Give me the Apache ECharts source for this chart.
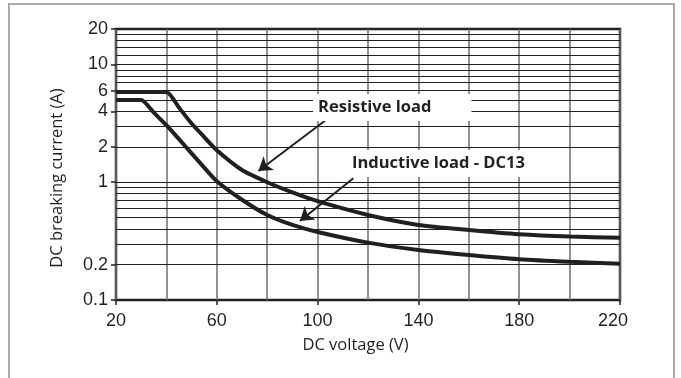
<!DOCTYPE html>
<html>
<head>
<meta charset="utf-8">
<script src="https://cdn.jsdelivr.net/npm/echarts@6/dist/echarts.min.js"></script>
<style>html,body{margin:0;padding:0;background:#fff;}#c{width:681px;height:378px;}</style>
</head>
<body>
<div id="c"></div>
<script>
// ---- data ----
const resistiveX = [20, 40, 45, 50, 55, 60, 70, 80, 90, 100, 120, 140, 160, 180, 200, 220];
const resistiveY = [5.85, 5.85, 4.3, 3.15, 2.42, 1.87, 1.27, 1.0, 0.82, 0.69, 0.527, 0.434, 0.393, 0.362, 0.346, 0.338];
const inductiveX = [20, 30, 35, 40, 45, 50, 55, 60, 70, 80, 90, 100, 120, 140, 160, 180, 200, 220];
const inductiveY = [5, 5, 3.9, 3.05, 2.32, 1.76, 1.33, 1.02, 0.71, 0.527, 0.434, 0.378, 0.307, 0.266, 0.241, 0.222, 0.211, 0.203];
const xTickLabels = [20, 60, 100, 140, 180, 220];
const yTickLabels = [0.1, 0.2, 1, 2, 4, 6, 10, 20];
const yGridValues = [0.2, 0.3, 0.4, 0.5, 0.6, 0.7, 0.8, 0.9, 1, 2, 3, 4, 5, 6, 7, 8, 9, 10, 12, 14, 16, 18];
const resistiveLabel = 'Resistive load';
const inductiveLabel = 'Inductive load - DC13';
const resistiveLabelAt = [98.2, 4.31];
const inductiveLabelAt = [108.9, 1.44];
const resistiveArrow = [[102.9, 3.33], [76.5, 1.247]];
const inductiveArrow = [[114.2, 1.08], [93.0, 0.469]];

const INK = '#231f20';
const pair = (xs, ys) => xs.map((x, i) => [x, ys[i]]);

const chart = echarts.init(document.getElementById('c'), null, {renderer: 'canvas'});
chart.setOption({
  animation: false,
  backgroundColor: '#fff',
  graphic: [{
    type: 'rect', silent: true, z: 0,
    shape: {x: 9, y: 4, width: 665, height: 420},
    style: {fill: 'none', stroke: '#a7a9ac', lineWidth: 2}
  }],
  grid: {
    left: 116, right: 61, top: 29, bottom: 78,
    show: true, borderColor: INK, borderWidth: 2.5, backgroundColor: 'transparent',
    outerBoundsMode: 'none'
  },
  xAxis: [{
    type: 'value', min: 20, max: 220,
    name: 'DC voltage (V)', nameLocation: 'middle', nameGap: 37,
    nameTextStyle: {fontFamily: 'Open Sans', fontSize: 16.5, color: INK, padding: [0, 25, 0, 0]},
    axisLine: {show: false},
    axisTick: {show: true, customValues: xTickLabels, length: 5, inside: false, lineStyle: {color: INK, width: 1.5}},
    axisLabel: {
      customValues: xTickLabels, margin: 12,
      fontFamily: 'Liberation Sans', fontSize: 18, color: INK,
      formatter: v => v === 220 ? '{r|220}' : String(v),
      rich: {r: {fontFamily: 'Liberation Sans', fontSize: 18, color: INK, padding: [0, 14, 0, 0]}}
    },
    splitLine: {show: false}
  }, {
    type: 'value', min: 20, max: 220, interval: 20, position: 'bottom',
    axisLine: {show: false}, axisTick: {show: false}, axisLabel: {show: false},
    splitLine: {show: true, lineStyle: {color: '#6d6e71', width: 1.5}}
  }],
  yAxis: {
    type: 'log', logBase: 10, min: 0.1, max: 20,
    name: 'DC breaking current (A)', nameLocation: 'middle', nameGap: 50,
    nameTextStyle: {fontFamily: 'Open Sans', fontSize: 16.5, color: INK, padding: [0, 27, 0, 0]},
    axisLine: {show: false},
    axisTick: {show: true, customValues: yTickLabels, length: 5, inside: false, lineStyle: {color: INK, width: 1.5}},
    axisLabel: {customValues: yTickLabels, margin: 8, fontFamily: 'Liberation Sans', fontSize: 18, color: INK},
    splitLine: {show: false},
    minorTick: {show: false}, minorSplitLine: {show: false}
  },
  series: [{
    name: 'grid', type: 'line', data: [], silent: true,
    markLine: {
      silent: true, z: 1, symbol: ['none', 'none'], animation: false,
      label: {show: false}, emphasis: {disabled: true},
      lineStyle: {color: INK, width: 1, type: 'solid'},
      data: yGridValues.map(v => ({yAxis: v}))
    }
  }, {
    name: 'Resistive load', type: 'line', data: pair(resistiveX, resistiveY),
    showSymbol: false, smooth: 0.2, z: 3,
    lineStyle: {color: INK, width: 4}, itemStyle: {color: INK}
  }, {
    name: 'Inductive load - DC13', type: 'line', data: pair(inductiveX, inductiveY),
    showSymbol: false, smooth: 0.2, z: 3,
    lineStyle: {color: INK, width: 4}, itemStyle: {color: INK}
  }, {
    name: 'annotations', type: 'line', data: [], silent: true, z: 6,
    markLine: {
      silent: true, z: 6, symbol: ['none', 'arrow'], symbolSize: 13, animation: false,
      label: {show: false}, emphasis: {disabled: true},
      lineStyle: {color: INK, width: 2, type: 'solid'},
      data: [
        [{coord: resistiveArrow[0]}, {coord: resistiveArrow[1]}],
        [{coord: inductiveArrow[0]}, {coord: inductiveArrow[1]}]
      ]
    },
    markPoint: {
      silent: true, z: 7, symbol: 'circle', symbolSize: 0, animation: false,
      itemStyle: {color: 'transparent'},
      label: {
        show: true, position: 'right', distance: 0,
        fontFamily: 'Open Sans', fontWeight: 'bold', fontSize: 16.5, color: INK,
        backgroundColor: '#fff'
      },
      data: [
        {coord: resistiveLabelAt, label: {formatter: resistiveLabel, padding: [5, 40, 5, 5]}},
        {coord: inductiveLabelAt, label: {formatter: inductiveLabel, padding: [5, 12, 5, 12]}}
      ]
    }
  }]
});
</script>
</body>
</html>
